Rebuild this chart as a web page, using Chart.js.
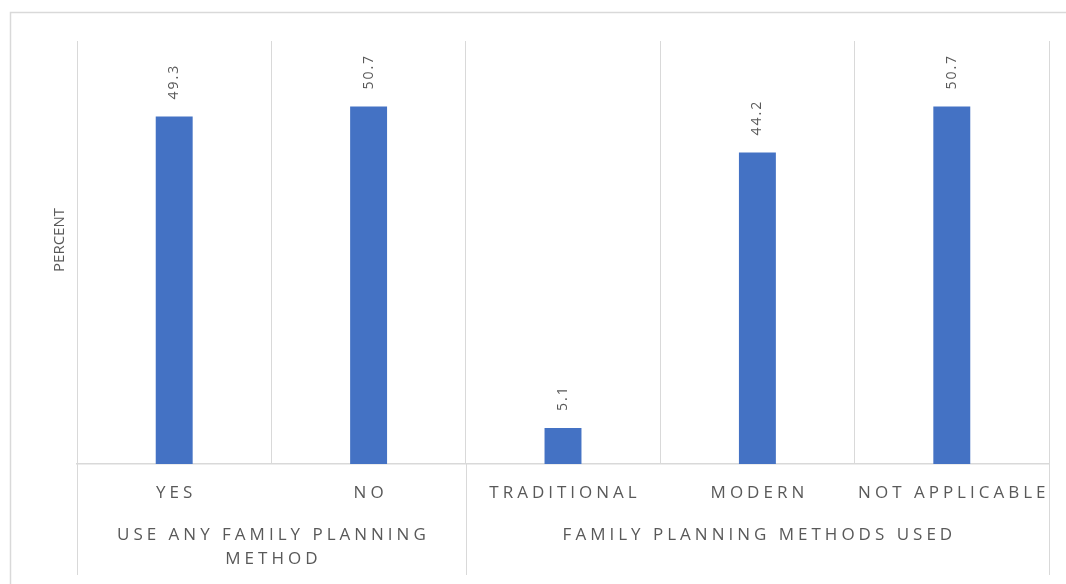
<!DOCTYPE html>
<html>
<head>
<meta charset="utf-8">
<script src="https://cdn.jsdelivr.net/npm/chart.js@4"></script>
<style>
  html, body { margin: 0; padding: 0; background: #fff; }
  #wrap { width: 1066px; height: 584px; position: relative; }
</style>
</head>
<body>
<div id="wrap"><canvas id="chart"></canvas></div>
<script>
const categories = ['YES', 'NO', 'TRADITIONAL', 'MODERN', 'NOT APPLICABLE'];
const percents = [49.3, 50.7, 5.1, 44.2, 50.7];
const groups = [
    { lines: ['USE ANY FAMILY PLANNING', 'METHOD'], from: 0, to: 1 },
    { lines: ['FAMILY PLANNING METHODS USED'], from: 2, to: 4 }
];
const yTitle = 'PERCENT';

const textGray = '#595959';
const lineGray = '#d9d9d9';
const FONT = '"Open Sans", "Noto Sans", sans-serif';

// frame, multi-level axis labels, value labels
const excelBits = {
    id: 'excelBits',
    beforeDraw(chart) {
        const ctx = chart.ctx;
        ctx.save();
        ctx.strokeStyle = lineGray;
        ctx.lineWidth = 1.5;
        ctx.beginPath();
        ctx.moveTo(10.5, 584);
        ctx.lineTo(10.5, 12.5);
        ctx.lineTo(1066, 12.5);
        ctx.stroke();
        ctx.restore();
    },
    afterDraw(chart) {
        const ctx = chart.ctx;
        const x = chart.scales.x;
        const area = chart.chartArea;
        const half = (x.getPixelForValue(1) - x.getPixelForValue(0)) / 2;

        ctx.save();
        // separators below the axis
        ctx.strokeStyle = lineGray;
        ctx.lineWidth = 1;
        const seps = [x.getPixelForValue(0) - half];
        groups.forEach(g => seps.push(x.getPixelForValue(g.to) + half));
        ctx.beginPath();
        seps.forEach(px => {
            const sx = Math.round(px) + 0.5;
            ctx.moveTo(sx, area.bottom);
            ctx.lineTo(sx, 575);
        });
        ctx.stroke();

        ctx.fillStyle = textGray;
        ctx.textAlign = 'center';
        ctx.textBaseline = 'middle';
        ctx.font = '17px ' + FONT;
        ctx.letterSpacing = '4px';
        categories.forEach((c, i) => {
            ctx.fillText(c, x.getPixelForValue(i) + 2, 493);
        });
        groups.forEach(g => {
            const cx = (x.getPixelForValue(g.from) + x.getPixelForValue(g.to)) / 2;
            g.lines.forEach((l, j) => ctx.fillText(l, cx + 2, 535 + j * 24));
        });

        // axis title
        ctx.letterSpacing = '0px';
        ctx.save();
        ctx.translate(60, 240);
        ctx.rotate(-Math.PI / 2);
        ctx.font = '15px ' + FONT;
        ctx.fillText(yTitle, 0, 0);
        ctx.restore();

        // value labels, rotated
        ctx.font = '14px ' + FONT;
        ctx.letterSpacing = '2px';
        ctx.textAlign = 'left';
        const meta = chart.getDatasetMeta(0);
        meta.data.forEach((bar, i) => {
            ctx.save();
            ctx.translate(bar.x, bar.y - 17);
            ctx.rotate(-Math.PI / 2);
            ctx.fillText(percents[i].toFixed(1), 0, 0);
            ctx.restore();
        });
        ctx.restore();
    }
};

new Chart(document.getElementById('chart'), {
    type: 'bar',
    data: {
        labels: categories,
        datasets: [{
            data: percents,
            backgroundColor: '#4472c4',
            barPercentage: 0.19,
            categoryPercentage: 1
        }]
    },
    options: {
        responsive: true,
        maintainAspectRatio: false,
        animation: false,
        layout: { padding: { left: 77, right: 17, top: 41, bottom: 120 } },
        plugins: {
            legend: { display: false },
            tooltip: { enabled: false }
        },
        scales: {
            x: {
                grid: { color: lineGray, drawTicks: false, offset: true },
                border: { color: lineGray, width: 1.5 },
                ticks: { display: false }
            },
            y: {
                display: false,
                min: 0,
                max: 60
            }
        }
    },
    plugins: [excelBits]
});
</script>
</body>
</html>
